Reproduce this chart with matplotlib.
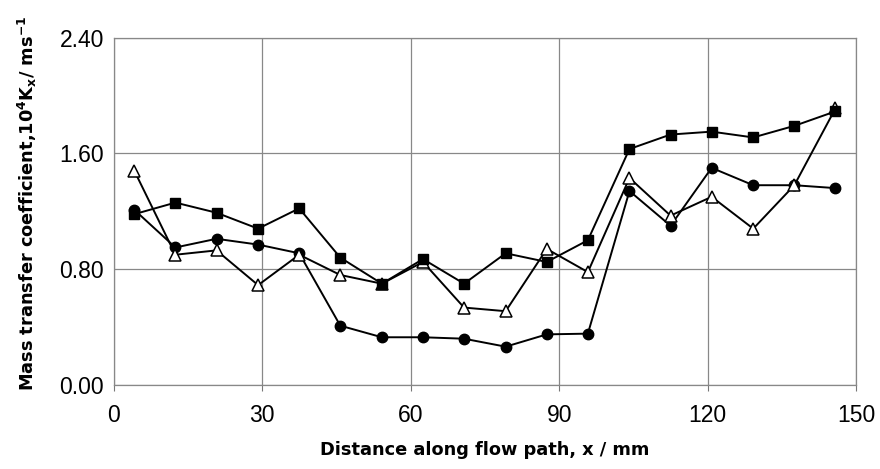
import matplotlib.pyplot as plt

# distance along the flow path (mm)
x = [4.2, 12.5, 20.8, 29.2, 37.5, 45.8, 54.2, 62.5, 70.8,
     79.2, 87.5, 95.8, 104.2, 112.5, 120.8, 129.2, 137.5, 145.8]

# mass transfer coefficient, 10^4 Kx / m s^-1
k_circle = [1.21, 0.95, 1.01, 0.97, 0.91, 0.41, 0.33, 0.33, 0.32,
            0.265, 0.35, 0.355, 1.34, 1.10, 1.50, 1.38, 1.38, 1.36]
k_triangle = [1.48, 0.90, 0.93, 0.69, 0.90, 0.76, 0.70, 0.85, 0.535,
              0.51, 0.94, 0.78, 1.43, 1.17, 1.30, 1.08, 1.38, 1.91]
k_square = [1.18, 1.26, 1.19, 1.08, 1.22, 0.88, 0.70, 0.87, 0.70,
            0.91, 0.85, 1.00, 1.63, 1.73, 1.75, 1.71, 1.79, 1.89]

x_ticks = [0, 30, 60, 90, 120, 150]
y_ticks = [0.0, 0.8, 1.6, 2.4]

plt.rcParams['mathtext.fontset'] = 'dejavusans'

fig = plt.figure(figsize=(8.8, 4.69), dpi=100)
ax = fig.add_axes([0.129, 0.179, 0.844, 0.741])

ax.plot(x, k_circle, color="black", linewidth=1.4, marker="o", markersize=7.5, zorder=3)
ax.plot(x, k_triangle, color="black", linewidth=1.4, marker="^", markersize=9,
        markerfacecolor="white", markeredgewidth=1.1, zorder=4)
ax.plot(x, k_square, color="black", linewidth=1.4, marker="s", markersize=7.5, zorder=5)

ax.set_xlim(0, 150)
ax.set_ylim(0, 2.4)
ax.set_xticks(x_ticks)
ax.set_yticks(y_ticks)
ax.set_yticklabels(["{:.2f}".format(v) for v in y_ticks])
ax.tick_params(axis="x", direction="out", length=4.5, width=0.8, color="#777777",
               labelsize=16.5, pad=9)
ax.tick_params(axis="y", length=0, labelsize=16.5, pad=7)
for lab in ax.get_xticklabels() + ax.get_yticklabels():
    lab.set_family("Liberation Sans")

ax.grid(color="#888888", linewidth=0.9)
ax.set_axisbelow(True)
for side in ax.spines.values():
    side.set_color("#888888")
    side.set_linewidth(0.9)

ax.set_xlabel("Distance along flow path, x / mm", fontsize=12.8, fontweight="bold",
              family="DejaVu Sans", labelpad=10)
ax.set_ylabel(r"Mass transfer coefficient,10$^{\mathbf{4}}$K$_{\mathbf{x}}$/ ms$^{\mathbf{-1}}$",
              fontsize=12.8, fontweight="bold", family="DejaVu Sans")
ax.yaxis.set_label_coords(-0.100, 0.523)

fig.savefig("out.png", dpi=100)
